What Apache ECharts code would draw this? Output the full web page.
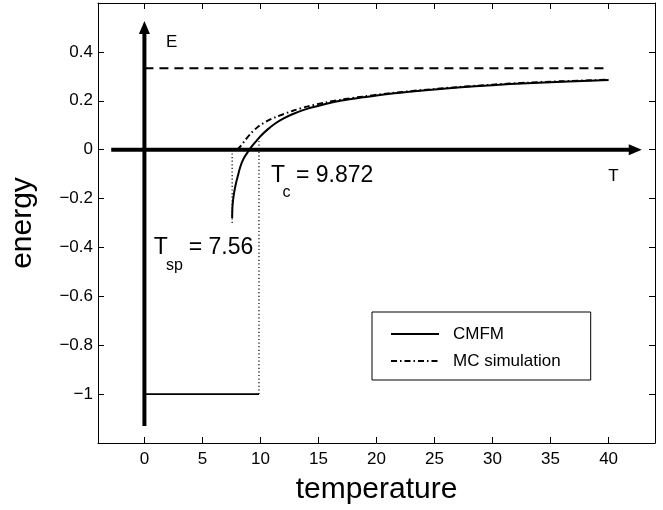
<!DOCTYPE html>
<html><head><meta charset="utf-8">
<script src="https://cdn.jsdelivr.net/npm/echarts@6/dist/echarts.min.js"></script>
<style>html,body{margin:0;padding:0;background:#fff}#c{width:663px;height:510px}</style>
</head><body><div id="c"></div>
<script>
const FONT = '"Liberation Sans", Arial, Helvetica, sans-serif';

// axis ticks / labels
const xTicks = [0, 5, 10, 15, 20, 25, 30, 35, 40];
const yTicks = [-1.2, -1, -0.8, -0.6, -0.4, -0.2, 0, 0.2, 0.4, 0.6];
const yTickLabels = [-1, -0.8, -0.6, -0.4, -0.2, 0, 0.2, 0.4];

// CMFM curve (temperature, energy)
const cmfmT = [7.56, 7.58, 7.62, 7.70, 7.80, 7.90, 8.05, 8.20, 8.40, 8.60, 8.90, 9.20, 9.60, 10.0, 10.6, 11.3, 12.0, 12.8, 14.0, 15.6, 17.0, 18.8, 21.0, 24.0, 27.0, 30.0, 33.0, 36.0, 40.0];
const cmfmE = [-0.280, -0.240, -0.215, -0.185, -0.158, -0.135, -0.108, -0.080, -0.052, -0.032, -0.010, 0.010, 0.033, 0.055, 0.082, 0.108, 0.128, 0.146, 0.167, 0.187, 0.201, 0.214, 0.228, 0.242, 0.254, 0.264, 0.272, 0.278, 0.285];

// MC simulation
const mcT = [8.0, 8.3, 8.7, 9.2, 9.9, 10.6, 11.3, 12.8, 14.0, 15.6, 17.0, 18.8, 21.0, 24.0, 27.0, 30.0, 33.0, 36.0, 40.0];
const mcE = [0.000, 0.015, 0.040, 0.068, 0.098, 0.118, 0.133, 0.159, 0.176, 0.193, 0.205, 0.217, 0.230, 0.244, 0.256, 0.266, 0.274, 0.280, 0.286];

// ordered phase (E = -1 below Tc) and high-T limit
const groundT = [0, 9.872];
const groundE = [-1, -1];
const limitT = [0, 40];
const limitE = [0.333, 0.333];

// special temperatures
const Tsp = 7.56, TspE = [-0.30, 0];
const Tc = 9.872, TcE = [-1, 0.06];

// schematic axes arrows
const tArrowT = [-2.86, 42.3];
const eArrowE = [-1.13, 0.50];

const zip = (a, b) => a.map((v, i) => [v, b[i]]);

const chart = echarts.init(document.getElementById('c'), null, {renderer: 'canvas'});

const axisCommon = {
  type: 'value',
  axisLine: {onZero: false, lineStyle: {color: '#000', width: 1}},
  splitLine: {show: false},
};
const tickStyle = {inside: true, length: 6, lineStyle: {color: '#000', width: 1}};

const option = {
  animation: false,
  backgroundColor: '#fff',
  grid: {left: 97, top: 3, width: 558, height: 442},
  xAxis: [
    Object.assign({}, axisCommon, {
      position: 'bottom', min: -4, max: 44,
      axisTick: Object.assign({customValues: xTicks}, tickStyle),
      axisLabel: {customValues: xTicks, color: '#000', fontSize: 17, fontFamily: FONT, margin: 8},
      name: 'temperature', nameLocation: 'middle', nameGap: 32,
      nameTextStyle: {color: '#000', fontSize: 30, fontFamily: FONT}
    }),
    Object.assign({}, axisCommon, {
      position: 'top', min: -4, max: 44,
      axisTick: Object.assign({customValues: xTicks}, tickStyle),
      axisLabel: {show: false}
    })
  ],
  yAxis: [
    Object.assign({}, axisCommon, {
      position: 'left', min: -1.2, max: 0.6,
      axisTick: Object.assign({customValues: yTicks}, tickStyle),
      axisLabel: {
        customValues: yTickLabels, color: '#000', fontSize: 17, fontFamily: FONT, margin: 5,
        formatter: v => (Math.abs(v) < 1e-9 ? '0' : (v < 0 ? '\u2212' : '') + String(Math.abs(Math.round(v * 10) / 10)))
      },
      name: 'energy', nameLocation: 'middle', nameGap: 60, nameRotate: 90,
      nameTextStyle: {color: '#000', fontSize: 30, fontFamily: FONT}
    }),
    Object.assign({}, axisCommon, {
      position: 'right', min: -1.2, max: 0.6,
      axisTick: Object.assign({customValues: yTicks}, tickStyle),
      axisLabel: {show: false}
    })
  ],
  legend: {
    data: ['CMFM', 'MC simulation'],
    orient: 'vertical', left: 372, top: 312,
    padding: [12, 30, 9, 18],
    itemWidth: 48, itemHeight: 14, itemGap: 7,
    borderColor: '#000', borderWidth: 1, backgroundColor: '#fff',
    itemStyle: {opacity: 0, borderWidth: 0},
    textStyle: {color: '#000', fontSize: 17, fontFamily: FONT, lineHeight: 20, padding: [0, 0, 0, 9]},
    selectedMode: false
  },
  series: [
    {
      name: 'high-T limit', type: 'line', data: zip(limitT, limitE), symbol: 'none', silent: true,
      lineStyle: {color: '#000', width: 1.8, type: [9, 6]}, z: 2
    },
    {
      name: 'Tsp marker', type: 'line', data: zip([Tsp, Tsp], TspE), symbol: 'none', silent: true,
      lineStyle: {color: '#000', width: 1.2, type: [1.2, 2.4]}, z: 2
    },
    {
      name: 'Tc marker', type: 'line', data: zip([Tc, Tc], TcE), symbol: 'none', silent: true,
      lineStyle: {color: '#000', width: 1.2, type: [1.2, 2.4]}, z: 2
    },
    {
      name: 'ordered', type: 'line', data: zip(groundT, groundE), symbol: 'none', silent: true,
      lineStyle: {color: '#000', width: 1.8}, z: 3
    },
    {
      name: 'MC simulation', type: 'line', data: zip(mcT, mcE), symbol: 'none', silent: true, smooth: 0.3,
      itemStyle: {color: '#000'},
      lineStyle: {color: '#000', width: 2, type: [6, 3, 1.5, 3]}, z: 3
    },
    {
      name: 'CMFM', type: 'line', data: zip(cmfmT, cmfmE), symbol: 'none', silent: true, smooth: 0.3,
      itemStyle: {color: '#000'},
      lineStyle: {color: '#000', width: 2}, z: 4
    },
    {
      name: 'T axis', type: 'line', silent: true, showSymbol: true, z: 5,
      itemStyle: {color: '#000'},
      lineStyle: {color: '#000', width: 4},
      data: [
        {value: [tArrowT[0], 0], symbol: 'none'},
        {value: [tArrowT[1], 0], symbol: 'triangle', symbolSize: [11, 13], symbolRotate: -90}
      ]
    },
    {
      name: 'E axis', type: 'line', silent: true, showSymbol: true, z: 5,
      itemStyle: {color: '#000'},
      lineStyle: {color: '#000', width: 4},
      data: [
        {value: [0, eArrowE[0]], symbol: 'none'},
        {value: [0, eArrowE[1]], symbol: 'triangle', symbolSize: [11, 13]}
      ]
    }
  ]
};
chart.setOption(option);

// text annotations anchored at data coordinates
function px(x, y) { return chart.convertToPixel({gridIndex: 0}, [x, y]); }
function txt(p, dx, dy, s, size) {
  return {
    type: 'text', x: p[0] + dx, y: p[1] + dy, silent: true, z: 10,
    style: {text: s, fill: '#000', fontSize: size, fontFamily: FONT,
            align: 'left', verticalAlign: 'middle', textAlign: 'left', textVerticalAlign: 'middle'}
  };
}
const pE = px(2.3, 0.44);
const pT = px(40.4, -0.111);
const pSp = px(0.8, -0.402);
const pC = px(10.9, -0.106);
chart.setOption({
  graphic: [
    txt(pE, -5, 0, 'E', 17),
    txt(pT, -5, 0, 'T', 17),
    txt(pSp, 0, 0, 'T', 23),
    txt(pSp, 12.3, 18, 'sp', 16),
    txt(pSp, 35, 0, '= 7.56', 23),
    txt(pC, 0, 0, 'T', 23),
    txt(pC, 11.7, 17.5, 'c', 16),
    txt(pC, 25, 0, '= 9.872', 23)
  ]
});
</script>
</body></html>
